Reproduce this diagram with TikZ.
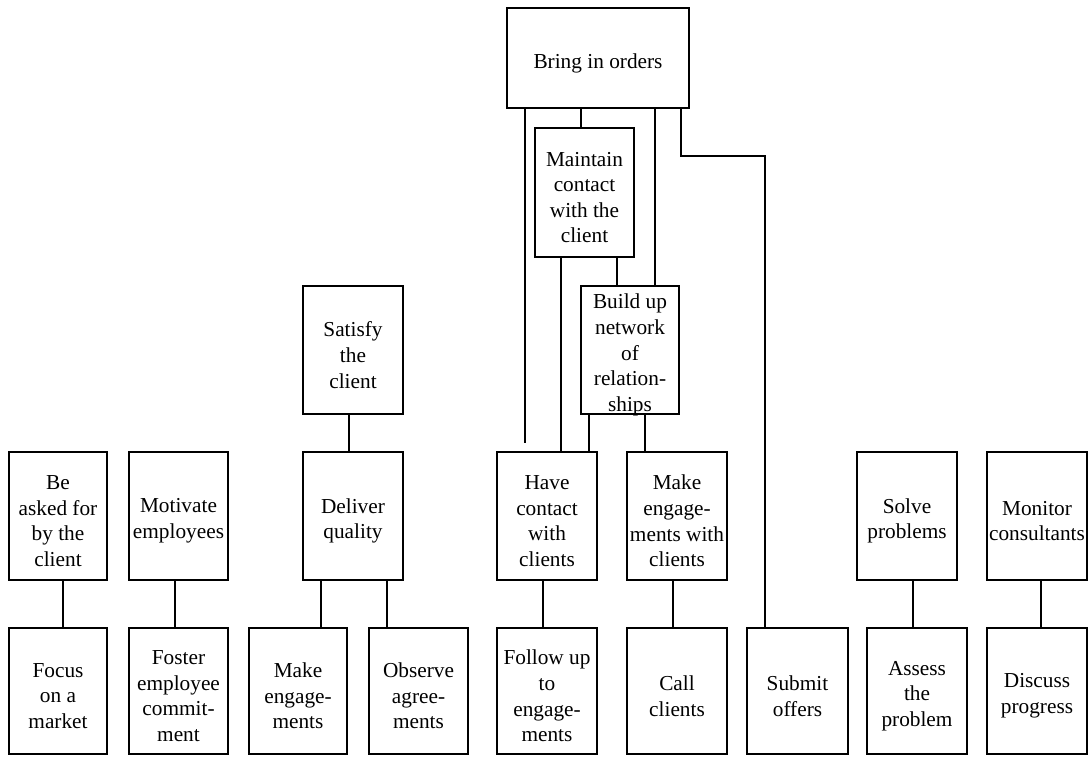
\documentclass[tikz,border=0pt]{standalone}
\usepackage{fontspec}
\setmainfont{Liberation Serif}
\begin{document}
\begin{tikzpicture}[x=1pt,y=-1pt,
  goal/.style={draw, line width=1.7pt, inner sep=0pt},
  caption/.style={inner sep=0pt, align=center, yshift=-5pt,
    font=\fontsize{21.3}{25.6}\selectfont},
  sz/.style 2 args={minimum width=#1pt, minimum height=#2pt},
  tx/.style={label={[caption]center:{#1}}},
  link/.style={line width=1.7pt}]
\useasboundingbox (0,0) rectangle (1091,756);

% top of the hierarchy
\node[goal, sz={182}{100}, tx={Bring in orders}] (bring) at (598,58) {};
\node[goal, sz={99}{129}, tx={Maintain\\contact\\with the\\client}] (maintain) at (584.5,192.5) {};
\node[goal, sz={98}{128}, tx={Build up\\network\\of\\relation-\\ships}] (build) at (630,350) {};
\node[goal, sz={100}{128}, tx={Satisfy\\the\\client}] (satisfy) at (353,350) {};

% middle row
\node[goal, sz={98}{128}, tx={Be\\asked for\\by the\\client}] (asked) at (58,516) {};
\node[goal, sz={99}{128}, tx={Motivate\\employees}] (motivate) at (178.5,516) {};
\node[goal, sz={100}{128}, tx={Deliver\\quality}] (deliver) at (353,516) {};
\node[goal, sz={100}{128}, tx={Have\\contact\\with\\clients}] (contact) at (547,516) {};
\node[goal, sz={100}{128}, tx={Make\\engage-\\ments with\\clients}] (engcl) at (677,516) {};
\node[goal, sz={100}{128}, tx={Solve\\problems}] (solve) at (907,516) {};
\node[goal, sz={100}{128}, tx={Monitor\\consultants}] (monitor) at (1037,516) {};

% bottom row
\node[goal, sz={98}{126}, tx={Focus\\on a\\market}] (focus) at (58,691) {};
\node[goal, sz={99}{126}, tx={Foster\\employee\\commit-\\ment}] (foster) at (178.5,691) {};
\node[goal, sz={98}{126}, tx={Make\\engage-\\ments}] (makeeng) at (298,691) {};
\node[goal, sz={99}{126}, tx={Observe\\agree-\\ments}] (observe) at (418.5,691) {};
\node[goal, sz={100}{126}, tx={Follow up\\to\\engage-\\ments}] (follow) at (547,691) {};
\node[goal, sz={100}{126}, tx={Call\\clients}] (call) at (677,691) {};
\node[goal, sz={101}{126}, tx={Submit\\offers}] (submit) at (797.5,691) {};
\node[goal, sz={100}{126}, tx={Assess\\the\\problem}] (assess) at (917,691) {};
\node[goal, sz={100}{126}, tx={Discuss\\progress}] (discuss) at (1037,691) {};

% free end of the long line below "Bring in orders"
\coordinate (loose) at (525,443);

% connectors
\draw[link] (bring.south -| 581,0) -- (maintain.north -| 581,0);
\draw[link] (bring.south -| loose) -- (loose);
\draw[link] (bring.south -| 655,0) -- (build.north -| 655,0);
\draw[link] (bring.south -| 681,0) -- (681,156) -| (submit.north -| 765,0);
\draw[link] (maintain.south -| 561,0) -- (contact.north -| 561,0);
\draw[link] (maintain.south -| 617,0) -- (build.north -| 617,0);
\draw[link] (build.south -| 589,0) -- (contact.north -| 589,0);
\draw[link] (build.south -| 645,0) -- (engcl.north -| 645,0);
\draw[link] (satisfy.south -| 349,0) -- (deliver.north -| 349,0);
\draw[link] (deliver.south -| 321,0) -- (makeeng.north -| 321,0);
\draw[link] (deliver.south -| 387,0) -- (observe.north -| 387,0);
\draw[link] (asked.south -| 63,0) -- (focus.north -| 63,0);
\draw[link] (motivate.south -| 175,0) -- (foster.north -| 175,0);
\draw[link] (contact.south -| 543,0) -- (follow.north -| 543,0);
\draw[link] (engcl.south -| 673,0) -- (call.north -| 673,0);
\draw[link] (solve.south -| 913,0) -- (assess.north -| 913,0);
\draw[link] (monitor.south -| 1041,0) -- (discuss.north -| 1041,0);
\end{tikzpicture}
\end{document}
